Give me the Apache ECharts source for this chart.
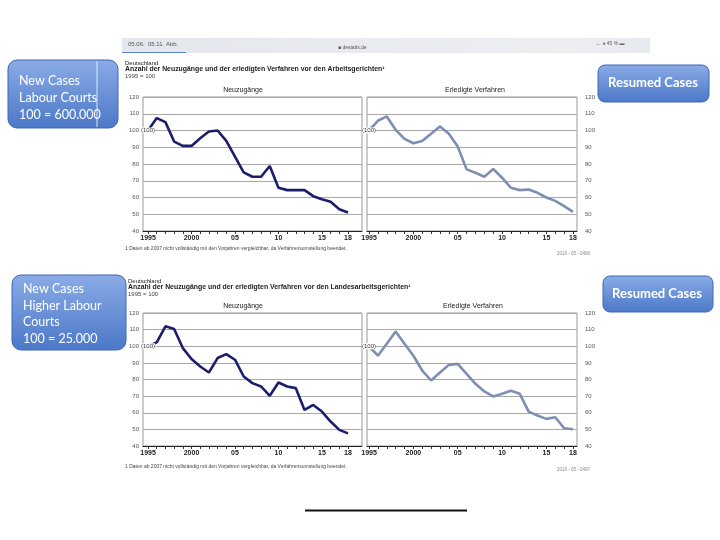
<!DOCTYPE html>
<html><head><meta charset="utf-8">
<script src="https://cdn.jsdelivr.net/npm/echarts@6/dist/echarts.min.js"></script>
<style>html,body{margin:0;padding:0;background:#fff}#c{width:720px;height:540px}</style>
</head><body><div id="c"></div>
<script>
var years = [1995,1996,1997,1998,1999,2000,2001,2002,2003,2004,2005,2006,2007,2008,2009,2010,2011,2012,2013,2014,2015,2016,2017,2018];
var tickYears = [1995,2000,2005,2010,2015,2018];
var tickLabels = ['1995','2000','05','10','15','18'];
// Arbeitsgerichte
var agNeu = [100,107.4,105,93.4,90.8,90.8,95.4,99.4,100,93.8,84.4,75,72.4,72.4,78.8,65.8,64.4,64.4,64.4,60.8,59,57.4,53,51];
var agErl = [100,105.8,108.4,100.4,95,92.4,93.8,98,102.4,98,90.4,76.8,74.8,72.4,77,71.8,65.8,64.4,64.8,62.8,60,58,54.8,51.4];
// Landesarbeitsgerichte
var lagNeu = [100,102.3,112,110.4,98.9,92.3,87.8,84.2,92.9,95.3,91.9,81.8,77.8,75.8,70.2,78.2,75.8,74.8,61.7,64.7,60.7,54.7,49.7,47.6];
var lagErl = [100,94.3,101.5,108.9,101.5,94.3,85.4,79.4,84.2,88.8,89.4,83.4,77.4,72.8,69.8,71.4,73.2,71.4,60.7,58.3,56.3,57.3,50.7,50.1];

var seriesList = [agNeu, agErl, lagNeu, lagErl];
var colors = ['#1b1f6b','#7d8fb3','#1b1f6b','#7d8fb3'];
var grids = [
  {left:143, top:97, width:219, height:134},
  {left:367, top:97, width:210, height:134},
  {left:143, top:313, width:219, height:133},
  {left:367, top:313, width:210, height:133}
];
var xRanges = [[1994.42,2019.61],[1994.77,2018.45],[1994.42,2019.61],[1994.77,2018.45]];

var chart = echarts.init(document.getElementById('c'));

function boxGrad(){
  return new echarts.graphic.LinearGradient(0,0,0,1,[{offset:0,color:'#8aabe6'},{offset:1,color:'#4c78c8'}]);
}
function txt(x,y,s,opt){
  return {type:'text',x:x,y:y,style:Object.assign({text:s,fill:'#222',fontSize:6,fontFamily:'Liberation Sans'},opt||{})};
}
function buildGraphics(){
  var els = [];
  els.push({type:'rect',shape:{x:122,y:38,width:528,height:15},style:{fill:new echarts.graphic.LinearGradient(0,0,1,0,[{offset:0,color:'#e4e7ed'},{offset:0.85,color:'#eceef2'},{offset:1,color:'#e6e9ee'}])}});
  els.push({type:'rect',shape:{x:122,y:52,width:64,height:1},style:{fill:'#5a82c8'}});
  els.push(txt(128,41,'05.06.  05.11. Abb.',{fill:'#555',fontSize:6}));
  els.push(txt(338,45,'\u25A0 destatis.de',{fill:'#555',fontSize:5}));
  els.push(txt(596,41,'\u2190 \u25CF 45 % \u25AC',{fill:'#666',fontSize:5}));
  els.push(txt(125,60,'Deutschland',{fontSize:6}));
  els.push(txt(125,66,'Anzahl der Neuzugänge und der erledigten Verfahren vor den Arbeitsgerichten\u00B9',{fontSize:6.9,fontWeight:'bold'}));
  els.push(txt(125,73,'1995 = 100',{fontSize:6,fill:'#444'}));
  els.push(txt(243,87,'Neuzugänge',{fontSize:7,textAlign:'center'}));
  els.push(txt(475,87,'Erledigte Verfahren',{fontSize:7,textAlign:'center'}));
  els.push(txt(125,246,'1 Daten ab 2007 nicht vollständig mit den Vorjahren vergleichbar, da Verfahrensumstellung beendet.',{fontSize:5,fill:'#444'}));
  els.push(txt(590,251,'2019 - 05 - 0496',{fontSize:4.5,fill:'#888',textAlign:'right'}));
  els.push(txt(128,278,'Deutschland',{fontSize:6}));
  els.push(txt(128,284,'Anzahl der Neuzugänge und der erledigten Verfahren vor den Landesarbeitsgerichten\u00B9',{fontSize:6.9,fontWeight:'bold'}));
  els.push(txt(128,291,'1995 = 100',{fontSize:6,fill:'#444'}));
  els.push(txt(243,303,'Neuzugänge',{fontSize:7,textAlign:'center'}));
  els.push(txt(473,303,'Erledigte Verfahren',{fontSize:7,textAlign:'center'}));
  els.push(txt(125,464,'1 Daten ab 2007 nicht vollständig mit den Vorjahren vergleichbar, da Verfahrensumstellung beendet.',{fontSize:5,fill:'#444'}));
  els.push(txt(590,467,'2019 - 05 - 0497',{fontSize:4.5,fill:'#888',textAlign:'right'}));
  els.push({type:'rect',shape:{x:8,y:60,width:110,height:68,r:9},style:{fill:boxGrad(),stroke:'#3f67b5',lineWidth:1}});
  els.push({type:'line',shape:{x1:97,y1:61,x2:97,y2:127},style:{stroke:'#dfe8f8',lineWidth:1}});
  els.push(txt(19,72,'New Cases\nLabour Courts\n100 = 600.000',{fill:'#fff',fontSize:12.5,fontFamily:'Lato',lineHeight:17}));
  els.push({type:'rect',shape:{x:12,y:275,width:114,height:75,r:9},style:{fill:boxGrad(),stroke:'#3f67b5',lineWidth:1}});
  els.push(txt(23,281,'New Cases\nHigher Labour\nCourts\n100 = 25.000',{fill:'#fff',fontSize:12.5,fontFamily:'Lato',lineHeight:16.5}));
  els.push({type:'rect',shape:{x:598,y:65,width:111,height:37,r:7},style:{fill:boxGrad(),stroke:'#3f67b5',lineWidth:1}});
  els.push(txt(653,83,'Resumed Cases',{fill:'#fff',fontSize:13,fontFamily:'Lato',fontWeight:'bold',textAlign:'center',textVerticalAlign:'middle'}));
  els.push({type:'rect',shape:{x:603,y:276,width:110,height:36,r:7},style:{fill:boxGrad(),stroke:'#3f67b5',lineWidth:1}});
  els.push(txt(657,294,'Resumed Cases',{fill:'#fff',fontSize:13,fontFamily:'Lato',fontWeight:'bold',textAlign:'center',textVerticalAlign:'middle'}));
  els.push({type:'rect',shape:{x:305,y:509.5,width:162,height:2},style:{fill:'#111'}});
  return els;
}

var option = {
  animation:false,
  backgroundColor:'#fff',
  grid: grids.map(function(g){return Object.assign({show:true,borderColor:'#999',borderWidth:1,backgroundColor:'transparent'}, g);}),
  xAxis: grids.map(function(g,i){return {
    type:'value', gridIndex:i, min:xRanges[i][0], max:xRanges[i][1],
    axisLine:{show:true,onZero:false,lineStyle:{color:'#222',width:1}},
    axisTick:{show:true,customValues:years,length:3,lineStyle:{color:'#333'}},
    axisLabel:{customValues:tickYears,formatter:function(v){var k=tickYears.indexOf(Math.round(v));return k>=0?tickLabels[k]:'';},fontSize:7,fontWeight:'bold',color:'#222',margin:4,fontFamily:'Liberation Sans'},
    splitLine:{show:false}
  };}),
  yAxis: grids.map(function(g,i){return {
    type:'value', gridIndex:i, min:40, max:120, interval:10,
    position: (i%2===0)?'left':'right',
    axisLine:{show:false}, axisTick:{show:false},
    axisLabel:{fontSize:6,color:'#555',margin:(i%2===0)?4:8,fontFamily:'Liberation Sans'},
    splitLine:{show:true,lineStyle:{color:'#a8a8a8',width:1}}
  };}),
  series: seriesList.map(function(vals,i){return {
    type:'line', xAxisIndex:i, yAxisIndex:i,
    data: years.map(function(y,k){return [y, vals[k]];}),
    symbol:'none', smooth:false,
    lineStyle:{color:colors[i],width:2.6},
    markPoint:{symbol:'rect',symbolSize:[1,1],itemStyle:{color:'transparent'},
      data:[{coord:[years[0],vals[0]],value:vals[0]}],
      label:{show:true,position:'inside',formatter:'(100)',fontSize:6,color:'#333',backgroundColor:'#fff',fontFamily:'Liberation Sans'}}
  };}),
  graphic: {elements: buildGraphics()}
};
chart.setOption(option);
</script></body></html>
